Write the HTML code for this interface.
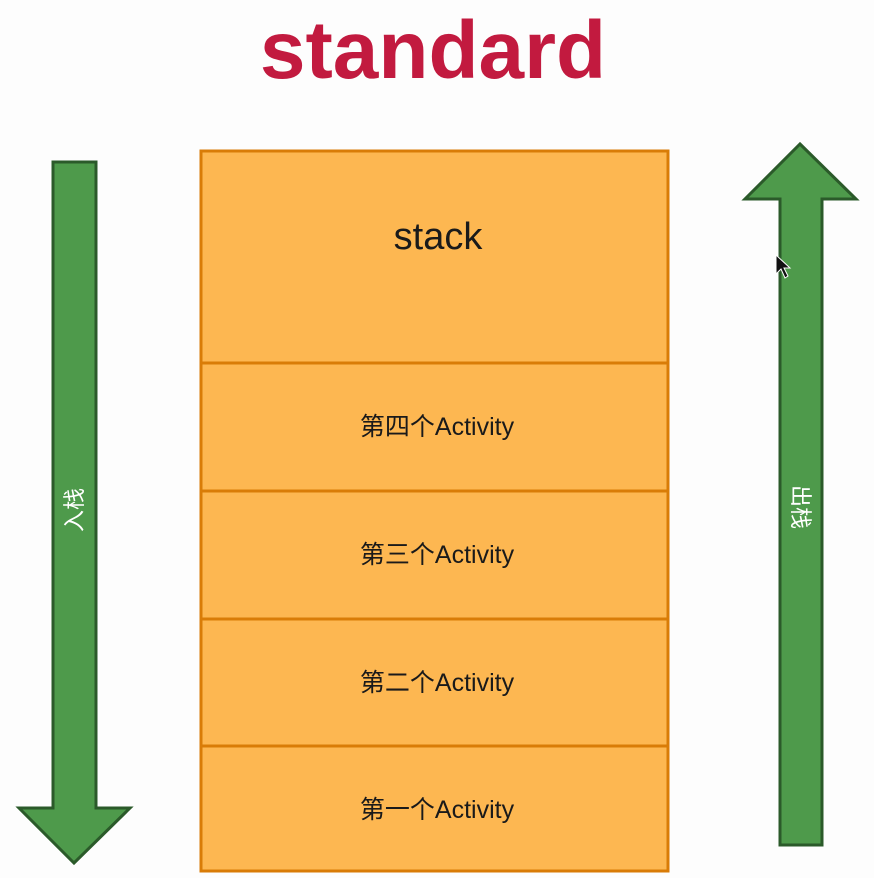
<!DOCTYPE html>
<html><head><meta charset="utf-8"><style>
html,body{margin:0;padding:0;background:#fdfdfd;}
svg{display:block;}
text{font-family:"Liberation Sans","Noto Sans CJK SC",sans-serif;}
</style></head><body>
<svg width="874" height="878" viewBox="0 0 874 878" xmlns="http://www.w3.org/2000/svg">
<rect width="874" height="878" fill="#fdfdfd"/>
<text x="433" y="78" text-anchor="middle" font-size="82" font-weight="bold" fill="#c21a3f">standard</text>

<g>
<polygon points="53,162 96,162 96,808 130,808 74,863 19,808 53,808" fill="#4e9a4b" stroke="#2b5a2a" stroke-width="3" stroke-linejoin="miter"/>
<text transform="translate(82,510) rotate(-90)" text-anchor="middle" font-size="22" fill="#ffffff">入栈</text>
</g>

<g>
<polygon points="800,144 856,199 822,199 822,845 780,845 780,199 745,199" fill="#4e9a4b" stroke="#2b5a2a" stroke-width="3" stroke-linejoin="miter"/>
<text transform="translate(793,507) rotate(90)" text-anchor="middle" font-size="22" fill="#ffffff">出栈</text>
</g>

<g>
<rect x="201" y="151" width="467" height="720" fill="#fdb751" stroke="#d97c07" stroke-width="3"/>
<line x1="201" y1="363" x2="668" y2="363" stroke="#d97c07" stroke-width="3"/>
<line x1="201" y1="491" x2="668" y2="491" stroke="#d97c07" stroke-width="3"/>
<line x1="201" y1="619" x2="668" y2="619" stroke="#d97c07" stroke-width="3"/>
<line x1="201" y1="746" x2="668" y2="746" stroke="#d97c07" stroke-width="3"/>
<text x="438" y="249" text-anchor="middle" font-size="38" fill="#1a1a1a">stack</text>
<text x="437" y="435" text-anchor="middle" font-size="25" fill="#1a1a1a">第四个Activity</text>
<text x="437" y="563" text-anchor="middle" font-size="25" fill="#1a1a1a">第三个Activity</text>
<text x="437" y="691" text-anchor="middle" font-size="25" fill="#1a1a1a">第二个Activity</text>
<text x="437" y="818" text-anchor="middle" font-size="25" fill="#1a1a1a">第一个Activity</text>
</g>
<polygon points="776,255 776,274 781,269 785,278 788,276 784,268 790,268" fill="#111" stroke="#fff" stroke-width="1"/>
</svg>
</body></html>
